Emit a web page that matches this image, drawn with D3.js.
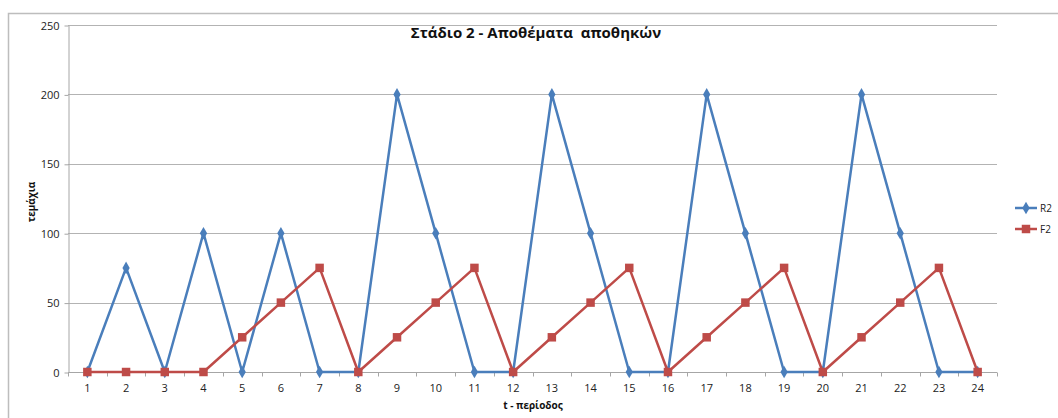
<!DOCTYPE html>
<html>
<head>
<meta charset="utf-8">
<script src="https://cdn.jsdelivr.net/npm/d3@7"></script>
<style>
  html, body { margin: 0; padding: 0; background: #fff; }
  svg { display: block; font-family: "Open Sans", "Noto Sans", sans-serif; }
</style>
</head>
<body>
<svg id="chart" width="1058" height="418"></svg>
<script>
// Periods and stock levels per period
const periods = ["1","2","3","4","5","6","7","8","9","10","11","12","13","14","15","16","17","18","19","20","21","22","23","24"];
const r2 = [0,75,0,100,0,100,0,0,200,100,0,0,200,100,0,0,200,100,0,0,200,100,0,0];
const f2 = [0,0,0,0,25,50,75,0,25,50,75,0,25,50,75,0,25,50,75,0,25,50,75,0];
const yTicks = [0,50,100,150,200,250];

const series = [
  { name: "R2", values: r2, color: "#4a7ebb", marker: d3.symbolDiamond, size: 46 },
  { name: "F2", values: f2, color: "#be4b48", marker: d3.symbolSquare, size: 72 }
];

const svg = d3.select("#chart");
const plot = { left: 68, right: 997, top: 25, bottom: 372 };

// Outer chart frame
svg.append("rect")
  .attr("x", 8.5).attr("y", 13.5)
  .attr("width", 1058).attr("height", 420)
  .attr("fill", "none").attr("stroke", "#bdbdbd").attr("stroke-width", 1.5);

const x = d3.scaleBand().domain(periods).range([plot.left, plot.right]);
const y = d3.scaleLinear().domain([0, 250]).range([plot.bottom, plot.top]);

// Horizontal gridlines
svg.append("g")
  .selectAll("line")
  .data(yTicks.filter(t => t > 0))
  .join("line")
  .attr("x1", plot.left).attr("x2", plot.right)
  .attr("y1", d => Math.round(y(d)) + 0.5).attr("y2", d => Math.round(y(d)) + 0.5)
  .attr("stroke", "#b3b3b3").attr("stroke-width", 1);

// Y axis
const yAxis = svg.append("g")
  .attr("transform", `translate(${plot.left + 0.5},0.5)`)
  .call(d3.axisLeft(y).tickValues(yTicks).tickSize(4).tickSizeOuter(0));
yAxis.select(".domain").attr("stroke", "#a6a6a6");
yAxis.selectAll(".tick line").attr("stroke", "#a6a6a6");
yAxis.selectAll(".tick text").attr("font-size", 11).attr("fill", "#222").attr("x", -9)
  .attr("font-family", "'Open Sans', sans-serif");

// X axis (category boundaries carry the tick marks)
const xAxisG = svg.append("g").attr("transform", `translate(0,${plot.bottom + 0.5})`);
xAxisG.append("line")
  .attr("x1", plot.left).attr("x2", plot.right)
  .attr("stroke", "#a6a6a6");
const bounds = periods.map(p => x(p)).concat([plot.right]);
xAxisG.selectAll("line.tk")
  .data(bounds)
  .join("line")
  .attr("class", "tk")
  .attr("x1", d => Math.round(d) + 0.5).attr("x2", d => Math.round(d) + 0.5)
  .attr("y1", 0).attr("y2", 4)
  .attr("stroke", "#a6a6a6");
xAxisG.selectAll("text")
  .data(periods)
  .join("text")
  .attr("x", d => x(d) + x.bandwidth() / 2)
  .attr("y", 19)
  .attr("text-anchor", "middle")
  .attr("font-size", 11)
  .attr("fill", "#222")
  .text(d => d);

// Series lines and markers
const line = d3.line()
  .x((d, i) => x(periods[i]) + x.bandwidth() / 2)
  .y(d => y(d));

series.forEach(s => {
  svg.append("path")
    .datum(s.values)
    .attr("d", line)
    .attr("fill", "none")
    .attr("stroke", s.color)
    .attr("stroke-width", 2.5)
    .attr("stroke-linejoin", "round");
  svg.append("g")
    .selectAll("path")
    .data(s.values)
    .join("path")
    .attr("transform", (d, i) => `translate(${x(periods[i]) + x.bandwidth() / 2},${y(d)})`)
    .attr("d", d3.symbol().type(s.marker).size(s.size))
    .attr("fill", s.color);
});

// Title
svg.append("text")
  .attr("x", 536).attr("y", 38)
  .attr("text-anchor", "middle")
  .attr("font-size", 15).attr("font-weight", "bold")
  .attr("fill", "#111")
  .style("white-space", "pre")
  .text("Στάδιο 2 - Αποθέματα  αποθηκών");

// Axis titles
svg.append("text")
  .attr("transform", "translate(35,202) rotate(-90)")
  .attr("text-anchor", "middle")
  .attr("font-size", 10).attr("font-weight", "bold")
  .attr("fill", "#111")
  .text("τεμάχια");

svg.append("text")
  .attr("x", 533).attr("y", 409)
  .attr("text-anchor", "middle")
  .attr("font-size", 10).attr("font-weight", "bold")
  .attr("fill", "#111")
  .text("t - περίοδος");

// Legend
const legend = svg.append("g");
series.forEach((s, i) => {
  const ly = 208 + i * 21;
  legend.append("line")
    .attr("x1", 1015).attr("x2", 1037)
    .attr("y1", ly).attr("y2", ly)
    .attr("stroke", s.color).attr("stroke-width", 2.5);
  legend.append("path")
    .attr("transform", `translate(1026,${ly})`)
    .attr("d", d3.symbol().type(s.marker).size(s.size))
    .attr("fill", s.color);
  legend.append("text")
    .attr("x", 1040).attr("y", ly + 4)
    .attr("font-size", 10)
    .attr("fill", "#222")
    .text(s.name);
});
</script>
</body>
</html>
